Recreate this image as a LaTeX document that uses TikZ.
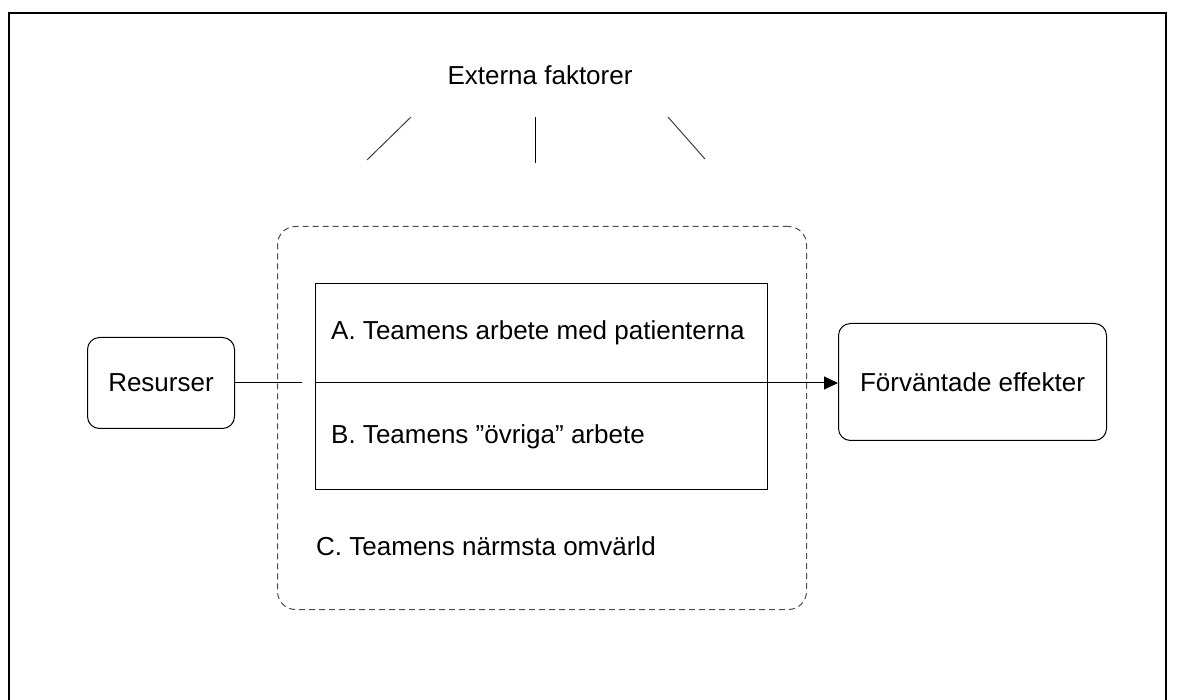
\documentclass[tikz,border=0pt]{standalone}
\usepackage{fontspec}
\setmainfont{Liberation Sans}
\usetikzlibrary{arrows.meta}
\begin{document}
\begin{tikzpicture}[x=1pt,y=-1pt,
  lbl/.style={font=\fontsize{26}{30}\selectfont, inner sep=0pt},
  rbox/.style={draw, line width=1pt, rounded corners=12pt, inner sep=0pt},
  conn/.style={line width=1pt},
  dashbox/.style={draw=black!70, line width=1pt, dash pattern=on 6pt off 4pt, rounded corners=18pt}]
\useasboundingbox (0,0) rectangle (1184,700);
% outer frame
\draw[line width=2.2pt] (9,700) -- (9,13) -- (1166,13) -- (1166,700);
% title
\node[lbl] (ext) at (540,75) {Externa faktorer};
\coordinate (l1a) at (367,160); \coordinate (l1b) at (411,117);
\coordinate (l2a) at (535,163); \coordinate (l2b) at (535,117);
\coordinate (l3a) at (668,117); \coordinate (l3b) at (705,159);
\draw[conn, black!75] (l1a) -- (l1b);
\draw[conn] (l2a) -- (l2b);
\draw[conn, black!75] (l3a) -- (l3b);
% dashed outer box
\node[dashbox, minimum width=529pt, minimum height=383pt, anchor=north west] (omv) at (277,226) {};
% inner box
\node[draw, line width=1pt, minimum width=452pt, minimum height=206pt, anchor=north west] (inner) at (315,283) {};
% side boxes
\node[rbox, minimum width=147pt, minimum height=91pt, anchor=north west] (res) at (87,337) {};
\node[lbl] at (res.center) {Resurser};
\node[rbox, minimum width=268pt, minimum height=117pt, anchor=north west] (eff) at (838,323) {};
\node[lbl] at (eff.center) {Förväntade effekter};
% texts
\node[lbl, anchor=west] (ta) at (331,333) {A. Teamens arbete med patienterna};
\node[lbl, anchor=west] (tb) at (331,437) {B. Teamens ”övriga” arbete};
\node[lbl, anchor=west] (tc) at (316,546) {C. Teamens närmsta omvärld};
% connectors
\coordinate (gap) at (302,383);
\draw[conn] (res.east |- gap) -- (gap);
\draw[conn, -{Triangle[length=14pt,width=13pt]}] (inner.west |- gap) -- (eff.west |- gap);
\end{tikzpicture}
\end{document}
